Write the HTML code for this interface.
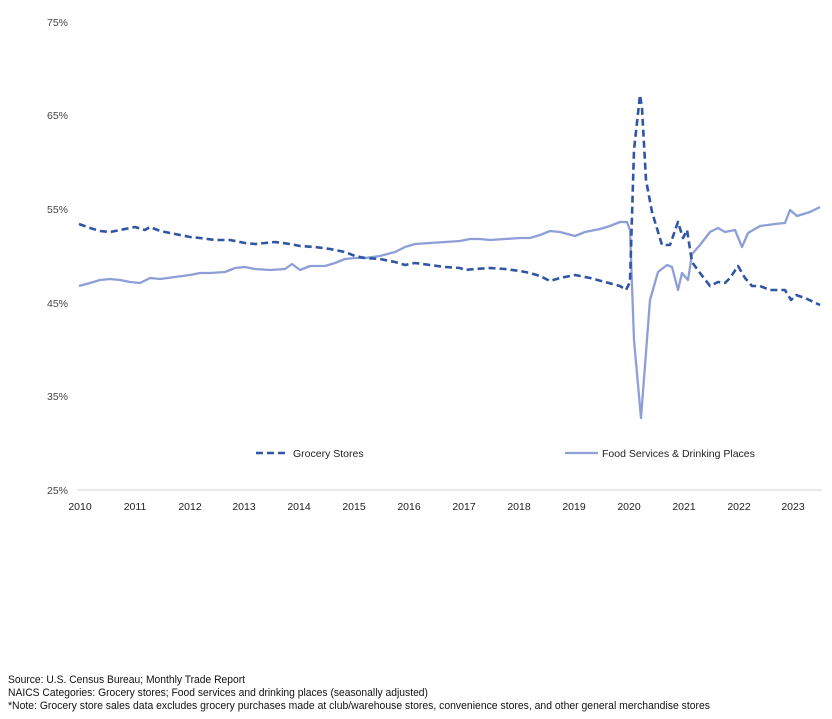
<!DOCTYPE html>
<html><head><meta charset="utf-8"><style>
html,body{margin:0;padding:0;background:#fff;}
svg{display:block;font-family:"Liberation Sans",sans-serif;}
</style></head><body>
<svg width="832" height="719" viewBox="0 0 832 719" xmlns="http://www.w3.org/2000/svg">
<rect width="832" height="719" fill="#fff"/>
<g font-size="10.5" fill="#444" text-anchor="end">
<text x="68" y="26">75%</text>
<text x="68" y="119">65%</text>
<text x="68" y="213">55%</text>
<text x="68" y="307">45%</text>
<text x="68" y="400">35%</text>
<text x="68" y="494">25%</text>
</g>
<line x1="77" y1="490" x2="822" y2="490" stroke="#d0d3dc" stroke-width="1"/>
<g font-size="10.5" fill="#222" text-anchor="middle">
<text x="80" y="510">2010</text><text x="135" y="510">2011</text><text x="190" y="510">2012</text>
<text x="244" y="510">2013</text><text x="299" y="510">2014</text><text x="354" y="510">2015</text>
<text x="409" y="510">2016</text><text x="464" y="510">2017</text><text x="519" y="510">2018</text>
<text x="574" y="510">2019</text><text x="629" y="510">2020</text><text x="684" y="510">2021</text>
<text x="739" y="510">2022</text><text x="793" y="510">2023</text>
</g>
<polyline fill="none" stroke="#8e9fd8" stroke-width="2.3" stroke-linejoin="round" points="79,286 90,283 100,280 110,279 120,280 130,282 140,283 150,278 160,279 175,277 190,275 200,273 210,273 225,272 235,268 245,267 255,269 270,270 285,269 292,264 300,270 310,266 325,266 335,263 345,259 355,258 365,258 380,256 395,252 405,247 415,244 430,243 445,242 460,241 470,239 480,239 490,240 505,239 520,238 530,238 540,235 550,231 560,232 575,236 585,232 600,229 610,226 620,222 627,222 630,230 634,340 641,418 650,300 658,272 667,265 672,267 678,290 682,273 688,280 692,254 700,245 710,232 718,228 725,232 735,230 742,247 748,233 760,226 775,224 785,223 790,210 797,216 810,212 820,207"/>
<polyline fill="none" stroke="#2f55a4" stroke-width="2.6" stroke-dasharray="7,4" stroke-linejoin="round" points="79,224 90,228 100,231 110,232 120,230 135,227 145,230 150,227 160,231 175,234 190,237 200,238 215,240 230,240 245,243 255,244 265,243 275,242 290,244 300,246 315,247 330,249 345,252 355,256 365,258 380,259 395,262 405,265 415,263 430,265 445,267 460,268 465,270 475,269 490,268 505,269 520,271 530,273 540,276 550,281 560,278 575,275 590,278 605,282 620,286 626,290 630,282 634,150 640,95 642,108 646,180 652,212 662,245 670,245 678,222 683,238 687,230 692,262 700,273 710,286 718,282 725,283 730,278 738,266 745,278 752,286 760,286 770,290 785,290 791,300 796,295 805,298 820,305"/>
<line x1="256" y1="453" x2="288" y2="453" stroke="#2f55a4" stroke-width="2.6" stroke-dasharray="7,4"/>
<text x="293" y="457" font-size="10.5" fill="#222">Grocery Stores</text>
<line x1="565" y1="453" x2="598" y2="453" stroke="#8e9fd8" stroke-width="2.3"/>
<text x="602" y="457" font-size="10.5" fill="#222">Food Services &amp; Drinking Places</text>
<g font-size="11" fill="#111">
<text x="8" y="683" textLength="237" lengthAdjust="spacingAndGlyphs">Source: U.S. Census Bureau; Monthly Trade Report</text>
<text x="8" y="696" textLength="420" lengthAdjust="spacingAndGlyphs">NAICS Categories: Grocery stores; Food services and drinking places (seasonally adjusted)</text>
<text x="8" y="709" textLength="702" lengthAdjust="spacingAndGlyphs">*Note: Grocery store sales data excludes grocery purchases made at club/warehouse stores, convenience stores, and other general merchandise stores</text>
</g>
</svg>
</body></html>
